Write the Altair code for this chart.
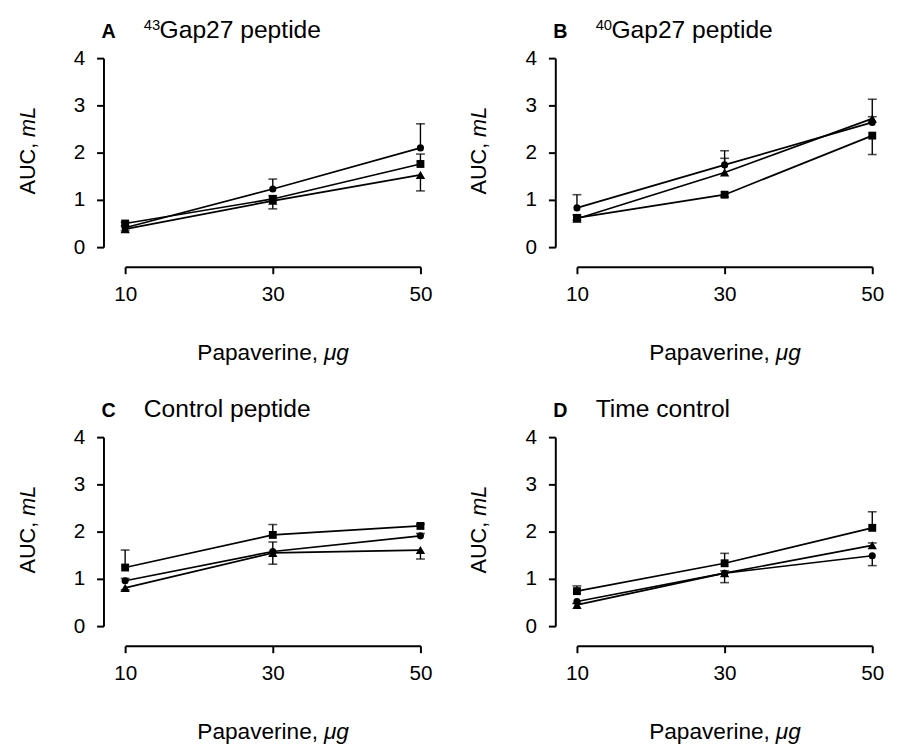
import altair as alt
import pandas as pd

FONT = "Liberation Sans"

doses = [10, 30, 50]
series_names = ["circle", "square", "triangle"]

# Panel A: 43Gap27 peptide
A_circle = [0.41, 1.23, 2.10]
A_square = [0.50, 1.02, 1.76]
A_triangle = [0.38, 0.98, 1.53]
A_circle_sem = [0.04, 0.21, 0.51]
A_square_sem = [0.03, 0.07, 0.21]
A_triangle_sem = [0.03, 0.17, 0.34]
A_dir = [1, 1, -1]

# Panel B: 40Gap27 peptide
B_circle = [0.83, 1.74, 2.64]
B_square = [0.62, 1.11, 2.36]
B_triangle = [0.60, 1.58, 2.72]
B_circle_sem = [0.28, 0.30, 0.12]
B_square_sem = [0.05, 0.05, 0.40]
B_triangle_sem = [0.08, 0.30, 0.41]
B_dir = [1, -1, 1]

# Panel C: Control peptide
C_circle = [0.96, 1.58, 1.91]
C_square = [1.24, 1.93, 2.12]
C_triangle = [0.81, 1.55, 1.61]
C_circle_sem = [0.05, 0.20, 0.05]
C_square_sem = [0.37, 0.22, 0.04]
C_triangle_sem = [0.04, 0.24, 0.19]
C_dir = [1, 1, -1]

# Panel D: Time control
D_circle = [0.52, 1.12, 1.49]
D_square = [0.74, 1.33, 2.08]
D_triangle = [0.45, 1.12, 1.71]
D_circle_sem = [0.04, 0.20, 0.21]
D_square_sem = [0.11, 0.21, 0.34]
D_triangle_sem = [0.03, 0.05, 0.05]
D_dir = [-1, 1, 1]

panel_keys = ["A", "B", "C", "D"]
panel_sup = ["43", "40", "", ""]
panel_titles = ["Gap27 peptide", "Gap27 peptide", "Control peptide", "Time control"]

panel_values = {
    "A": (A_circle, A_square, A_triangle, A_circle_sem, A_square_sem, A_triangle_sem, A_dir),
    "B": (B_circle, B_square, B_triangle, B_circle_sem, B_square_sem, B_triangle_sem, B_dir),
    "C": (C_circle, C_square, C_triangle, C_circle_sem, C_square_sem, C_triangle_sem, C_dir),
    "D": (D_circle, D_square, D_triangle, D_circle_sem, D_square_sem, D_triangle_sem, D_dir),
}

rows = []
for key, (c, s, t, cs, ss, ts, dr) in panel_values.items():
    for name, vals, sems, sign in zip(series_names, [c, s, t], [cs, ss, ts], dr):
        for dose, v, e in zip(doses, vals, sems):
            rows.append({"panel": key, "series": name, "dose": dose,
                         "value": v, "end": v + sign * e})
df = pd.DataFrame(rows)

shape_map = {"circle": ("circle", 52), "square": ("square", 64), "triangle": ("triangle-up", 90)}

W, H = 300, 192
dummy = pd.DataFrame({"a": [0]})


def txt(text, x, y, size=23, weight="normal", style="normal", align="left", angle=0):
    return alt.Chart(dummy).mark_text(
        text=text, font=FONT, fontSize=size, fontWeight=weight, fontStyle=style,
        align=align, baseline="alphabetic", angle=angle, color="black"
    ).encode(x=alt.value(x), y=alt.value(y))


def panel(idx):
    key = panel_keys[idx]
    d = df[df.panel == key]
    xenc = alt.X("dose:Q", scale=alt.Scale(domain=[10, 50], nice=False, zero=False),
                 axis=alt.Axis(values=doses, offset=20, title=None, format="d"))
    yenc = alt.Y("value:Q", scale=alt.Scale(domain=[0, 4], nice=False),
                 axis=alt.Axis(values=[0, 1, 2, 3, 4], offset=22, title=None, format="d"))
    base = alt.Chart(d)
    lines = base.mark_line(color="black", strokeWidth=1.7).encode(
        x=xenc, y=yenc, detail="series:N")
    rules = base.mark_rule(color="black", strokeWidth=1.4).encode(
        x="dose:Q", y="value:Q", y2="end:Q")
    caps = base.mark_tick(color="black", thickness=1.6, size=9, orient="horizontal").encode(
        x="dose:Q", y="end:Q")
    layers = [rules, caps, lines]
    for name in series_names:
        shp, sz = shape_map[name]
        layers.append(
            base.transform_filter(alt.datum.series == name)
            .mark_point(filled=True, color="black", opacity=1, shape=shp, size=sz)
            .encode(x="dose:Q", y="value:Q")
        )
    # panel letter and title
    layers.append(txt(key, -24, -20, size=20, weight="bold"))
    if panel_sup[idx]:
        layers.append(txt(panel_sup[idx], 19, -29, size=15))
        layers.append(txt(panel_titles[idx], 35, -20, size=25))
    else:
        layers.append(txt(panel_titles[idx], 19, -20, size=25))
    # axis titles with italic units
    layers.append(txt("Papaverine,", 196, 307, size=23, align="right"))
    layers.append(txt("\u03bcg", 202, 307, size=23, style="italic"))
    layers.append(txt("AUC,", -92, 86, size=22, align="right", angle=270))
    layers.append(txt("mL", -92, 80, size=22, style="italic", angle=270))
    return alt.layer(*layers).properties(width=W, height=H)


chart = alt.concat(
    panel(0), panel(1), panel(2), panel(3),
    columns=2, spacing={"row": 193, "column": 159}, bounds="flush"
).properties(
    padding={"left": 9, "top": 4, "right": 5, "bottom": 5}
).configure_view(stroke=None).configure_axis(
    grid=False, domainColor="black", domainWidth=2, tickColor="black", tickWidth=2,
    tickSize=7, labelColor="black", labelFont=FONT, labelFontSize=21, labelPadding=10,
    labelFlush=False
).configure_axisY(labelPadding=12)

chart.save("out.html", embed_options={"renderer": "svg", "actions": False})
